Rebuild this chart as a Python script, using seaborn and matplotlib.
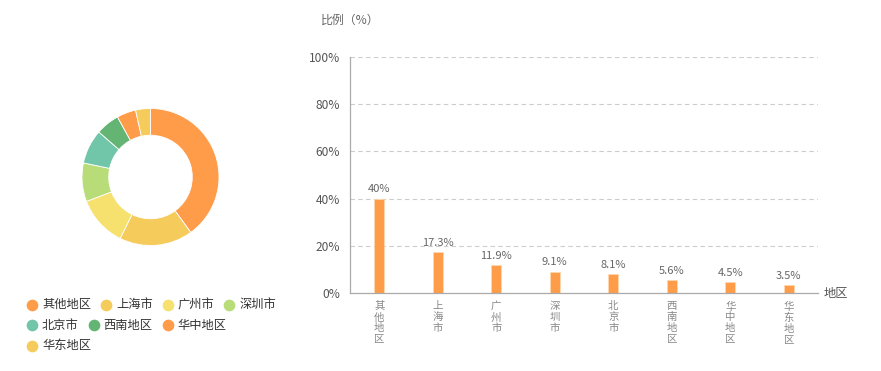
import matplotlib
matplotlib.use("Agg")
import matplotlib.pyplot as plt
from matplotlib.lines import Line2D
import seaborn as sns
import pandas as pd

regions = ["其他地区", "上海市", "广州市", "深圳市", "北京市", "西南地区", "华中地区", "华东地区"]
shares = [40, 17.3, 11.9, 9.1, 8.1, 5.6, 4.5, 3.5]
value_labels = ["40%", "17.3%", "11.9%", "9.1%", "8.1%", "5.6%", "4.5%", "3.5%"]
pie_colors = ["#FF9C4A", "#F5CB5C", "#F6E06E", "#B8DC78", "#71C5A8", "#64B573", "#FF9C4A", "#F5CB5C"]
bar_color = "#FF9C4A"
y_ticks = [0, 20, 40, 60, 80, 100]
y_tick_labels = ["0%", "20%", "40%", "60%", "80%", "100%"]

sns.set_theme(style="white")
plt.rcParams["font.family"] = ["Noto Sans CJK SC", "DejaVu Sans"]

W, H = 881, 371
fig = plt.figure(figsize=(W / 100, H / 100), dpi=100)

def fx(x):
    return x / W

def fy(y):
    return 1 - y / H

# ---- donut ----
cx, cy, R = 150.5, 177, 68.5
axp = fig.add_axes([fx(cx - R), fy(cy + R), 2 * R / W, 2 * R / H])
axp.pie(shares, colors=pie_colors, startangle=90, counterclock=False, radius=1,
        wedgeprops=dict(width=0.39, edgecolor="white", linewidth=0.6))
axp.set_xlim(-1, 1)
axp.set_ylim(-1, 1)
axp.set_aspect("equal")
axp.axis("off")

# ---- legend (flow layout) ----
renderer = fig.canvas.get_renderer()
x0, row_y, row_h, max_x = 32, 304.5, 20.5, 285
x = x0
y = row_y
for name, col in zip(regions, pie_colors):
    t = fig.text(0, 0, name, fontsize=8.8, color="#333333", va="center", ha="left")
    w = t.get_window_extent(renderer).width
    if x + 11 + w > max_x:
        x = x0
        y += row_h
    fig.add_artist(Line2D([fx(x)], [fy(y)], marker="o", markersize=7.4, color=col,
                          linestyle="none", transform=fig.transFigure))
    t.set_position((fx(x + 10), fy(y)))
    x = x + 10 + w + 15

# ---- bar chart ----
axb = fig.add_axes([fx(350), fy(293), (818 - 350) / W, (293 - 57) / H])
df = pd.DataFrame({"region": regions, "share": shares})
sns.barplot(data=df, x="region", y="share", color=bar_color, width=0.17,
            saturation=1, ax=axb, edgecolor="#FFD9B0", linewidth=0.5)
axb.set_ylim(0, 100)
axb.set_xlim(-0.5, len(regions) - 0.5)
axb.set_yticks(y_ticks)
axb.set_yticklabels(y_tick_labels, fontsize=8.6, color="#555555")
axb.set_xticks(range(len(regions)))
axb.set_xticklabels(["\n".join(r) for r in regions], fontsize=7.5, color="#888888",
                    va="top", linespacing=1.12)
axb.tick_params(axis="both", length=0)
axb.tick_params(axis="y", pad=7)
axb.tick_params(axis="x", pad=6)
axb.set_xlabel("")
axb.set_ylabel("")
for yv in y_ticks[1:]:
    axb.axhline(yv, color="#CCCCCC", linestyle=(0, (4, 3)), linewidth=0.8, zorder=0)
for s in ["top", "right"]:
    axb.spines[s].set_visible(False)
for s in ["left", "bottom"]:
    axb.spines[s].set_color("#AAAAAA")
    axb.spines[s].set_linewidth(0.9)
axb.bar_label(axb.containers[0], labels=value_labels, padding=3, fontsize=8, color="#666666")

fig.text(fx(321), fy(20), "比例（%）", fontsize=8.6, color="#666666", va="center", ha="left")
fig.text(fx(824), fy(293), "地区", fontsize=8.8, color="#555555", va="center", ha="left")

fig.savefig("out.png", dpi=100)
